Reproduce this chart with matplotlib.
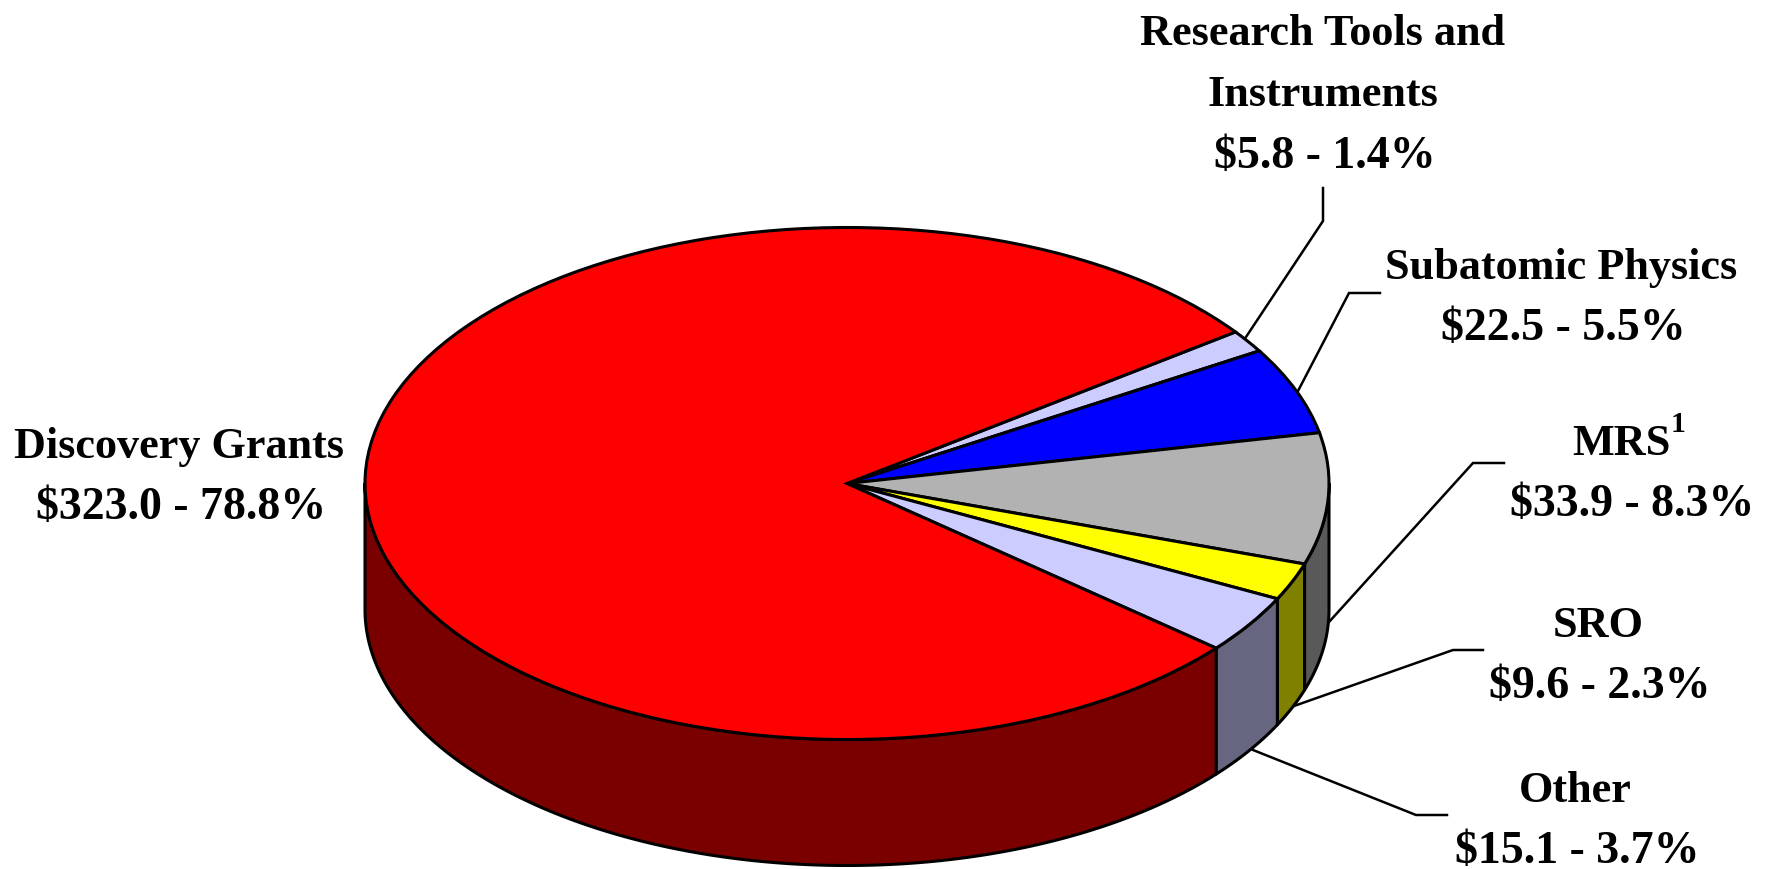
import numpy as np
import matplotlib
matplotlib.use('Agg')
import matplotlib.pyplot as plt
from matplotlib.transforms import Affine2D

# clockwise from the top right, as on the original
names = ['Research Tools and\nInstruments', 'Subatomic Physics', 'MRS', 'SRO', 'Other', 'Discovery Grants']
amounts = [5.8, 22.5, 33.9, 9.6, 15.1, 323.0]
percents = [1.4, 5.5, 8.3, 2.3, 3.7, 78.8]

top_colors = ['#CCCCFF', '#0000FF', '#B2B2B2', '#FFFF00', '#CCCCFF', '#FF0000']
side_colors = ['#666680', '#000080', '#595959', '#808000', '#666680', '#7A0000']

W, H = 1773, 870
CX, CY, RX, RY = 847, 484.5, 482, 256
DEPTH = 126 / RY
START = 36.3
LW = 2.2

# label layout in picture pixels: centre x, baseline of the first line
label_pos = [(1323, 45), (1561, 279), (1630, 455), (1598, 637), (1575, 802), (179, 458)]
# leader lines in picture pixels, None for the label that has none
leaders = [
    [(1323, 189), (1323, 222), (1246, 338)],
    [(1380, 294), (1349, 294), (1298, 392)],
    [(1504, 464), (1473, 464), (1329, 623)],
    [(1483, 651), (1453, 651), (1294, 707)],
    [(1447, 816), (1416, 816), (1253, 751)],
    None,
]

plt.rcParams['font.family'] = ['Liberation Serif', 'DejaVu Serif']

fig = plt.figure(figsize=(W / 100, H / 100), dpi=100)
ax = fig.add_axes([0, 0, 1, 1])
ax.pie(amounts, colors=top_colors, startangle=START, counterclock=False, radius=1,
       wedgeprops={'edgecolor': 'black', 'linewidth': LW, 'zorder': 3})
ax.set_aspect('auto')
ax.set_xlim(-CX / RX, (W - CX) / RX)
ax.set_ylim((CY - H) / RY, CY / RY)
ax.axis('off')

# side wall, only the part facing front (180 to 360 deg)
ends = START - np.cumsum(amounts) / sum(amounts) * 360
begins = np.r_[START, ends[:-1]]
for a0, a1, col in zip(begins, ends, side_colors):
    lo, hi = a1 % 360, a1 % 360 + (a0 - a1)
    for shift in (0, 360):
        s, e = max(lo, 180 + shift), min(hi, 360 + shift)
        if e <= s:
            continue
        t = np.radians(np.linspace(s, e, 200))
        xs = np.cos(t)
        ys = np.sin(t)
        ax.fill(np.r_[xs, xs[::-1]], np.r_[ys, ys[::-1] - DEPTH], facecolor=col,
                edgecolor='black', linewidth=LW, zorder=2, joinstyle='round')

px = Affine2D().scale(1, -1).translate(0, H)
FS_NAME = 31.9
FS_AMOUNT = 33
STEP = 61.5
for i, name in enumerate(names):
    x, y = label_pos[i]
    lines = name.split('\n')
    for j, line in enumerate(lines):
        # the superscript pushes the MRS word left of the amount below it
        lx = x - 9 if line == 'MRS' else x
        ax.text(lx, y + j * STEP, line, transform=px, ha='center', va='baseline',
                fontsize=FS_NAME, fontweight='bold', color='black', zorder=5)
    amount = r'\$%.1f - %.1f%%' % (amounts[i], percents[i])
    ax.text(x + 2, y + len(lines) * STEP, amount, transform=px, ha='center', va='baseline',
            fontsize=FS_AMOUNT, fontweight='bold', color='black', zorder=5)
    if leaders[i] is not None:
        pts = np.array(leaders[i])
        ax.plot(pts[:, 0], pts[:, 1], transform=px, color='black', lw=1.8, zorder=1,
                solid_joinstyle='miter', clip_on=False)

# superscript on MRS
ax.text(1671, 432, '1', transform=px, ha='left', va='baseline', fontsize=21.5, fontweight='bold', color='black')

fig.savefig('out.png', dpi=100, facecolor='white')
